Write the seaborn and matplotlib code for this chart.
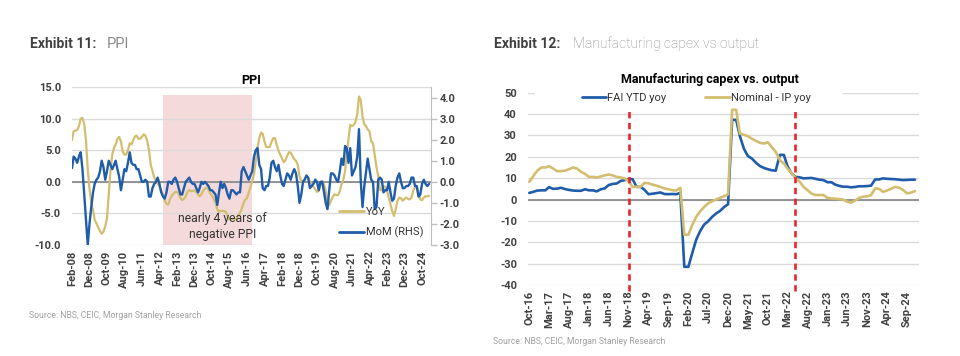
import matplotlib
matplotlib.use("Agg")
import matplotlib.pyplot as plt
from matplotlib.lines import Line2D
from matplotlib.patches import Rectangle
import pandas as pd
import seaborn as sns

########################################
# PPI data, monthly from Feb-08 to Feb-25

ppi_start = "2008-02-01"
ppi_yoy = [
    6.6, 8.0, 8.1, 8.2, 8.8, 10.0, 10.1, 9.1, 6.6, 2.0, -1.1,
    -3.3, -4.5, -6.0, -6.6, -7.2, -7.8, -8.2, -7.9, -7.0, -5.8, -2.1, 1.7,
    4.3, 5.4, 5.9, 6.8, 7.1, 6.4, 4.8, 4.3, 4.3, 5.0, 6.1, 5.9,
    6.6, 7.2, 7.3, 6.8, 6.8, 7.1, 7.5, 7.3, 6.5, 5.0, 2.7, 1.7,
    0.7, 0.0, -0.3, -0.7, -1.4, -2.1, -2.9, -3.5, -3.6, -2.8, -2.2, -1.9,
    -1.6, -1.6, -1.9, -2.6, -2.9, -2.7, -2.3, -1.6, -1.3, -1.5, -1.4, -1.4,
    -1.6, -2.0, -2.3, -2.0, -1.4, -1.1, -0.9, -1.2, -1.8, -2.2, -2.7, -3.3,
    -4.3, -4.8, -4.6, -4.6, -4.6, -4.8, -5.4, -5.9, -5.9, -5.9, -5.9, -5.9,
    -5.3, -4.9, -4.3, -3.4, -2.8, -2.6, -1.7, -0.8, 0.1, 1.2, 3.3, 5.5,
    6.9, 7.8, 7.6, 6.4, 5.5, 5.5, 5.5, 6.3, 6.9, 6.9, 5.8, 4.9,
    4.3, 3.7, 3.1, 3.4, 4.1, 4.7, 4.6, 4.1, 3.6, 3.3, 2.7, 0.9,
    0.1, 0.1, 0.4, 0.9, 0.6, 0.0, -0.3, -0.8, -1.2, -1.6, -1.4, -0.5,
    0.1, -0.4, -1.5, -3.1, -3.7, -3.0, -2.4, -2.0, -2.1, -2.1, -1.5, -0.4,
    0.3, 1.7, 4.4, 6.8, 9.0, 8.8, 9.0, 9.5, 10.7, 13.5, 12.9, 10.3,
    9.1, 8.8, 8.3, 8.0, 6.4, 6.1, 4.2, 2.3, 0.9, -1.3, -1.3, -0.7,
    -0.8, -1.4, -2.5, -3.6, -4.6, -5.4, -4.4, -3.0, -2.5, -2.6, -3.0, -2.7,
    -2.5, -2.7, -2.8, -2.5, -1.4, -0.8, -0.8, -1.8, -2.8, -2.9, -2.5, -2.3,
    -2.3, -2.2,
]
ppi_mom = [
    0.65, 1.2, 1.1, 0.9, 1.2, 1.4, 0.6, -0.6, -1.8, -3.0, -2.0,
    -1.2, -0.5, -0.1, 0.1, 0.2, 0.5, 1.0, 0.7, 0.1, 0.5, 1.0, 0.8,
    0.6, 0.8, 1.0, 0.6, 0.25, -0.4, 0.1, 0.6, 0.5, 0.9, 1.4, 0.9,
    0.8, 0.8, 0.6, 0.6, 0.3, 0.0, 0.0, 0.1, 0.0, -0.7, -0.7, -0.3,
    -0.1, 0.0, 0.2, -0.1, -0.5, -0.7, -0.8, -0.5, 0.0, 0.0, -0.1, 0.1,
    0.2, 0.0, -0.3, -0.6, -0.6, -0.3, 0.0, 0.1, 0.2, 0.0, -0.1, -0.1,
    -0.3, -0.5, -0.3, 0.0, -0.1, 0.0, -0.1, -0.2, -0.4, -0.4, -0.5, -0.6,
    -1.1, -0.5, 0.0, -0.3, -0.1, -0.3, -0.6, -0.8, -0.4, -0.4, -0.5, -0.6,
    -0.5, -0.5, 0.5, 0.7, 0.5, 0.3, 0.1, 0.3, 0.5, 1.2, 1.5, 1.6,
    0.8, 0.6, -0.3, -0.4, -0.2, -0.2, 0.2, 0.9, 1.0, 0.7, 0.5, 0.8,
    0.3, -0.1, -0.2, 0.1, 0.4, 0.3, 0.1, 0.4, 0.6, 0.4, -0.2, -1.0,
    -0.6, 0.0, 0.1, 0.3, 0.2, -0.3, -0.2, -0.1, 0.1, 0.0, -0.4, 0.0,
    0.0, -0.5, -1.0, -1.3, -0.4, 0.4, 0.4, 0.3, 0.1, 0.0, 0.5, 1.1,
    0.8, 1.7, 1.6, 0.9, 1.6, 0.3, 0.5, 0.7, 1.2, 2.5, 0.0, -1.2,
    -0.2, 0.5, 1.1, 0.6, 0.1, 0.0, -1.3, -1.2, 0.1, 0.2, 0.1, -0.5,
    -0.4, -0.4, 0.0, -0.5, -0.9, -0.8, -0.2, 0.2, 0.4, 0.0, -0.3, -0.3,
    -0.2, -0.2, -0.1, 0.2, 0.2, -0.2, -0.2, -0.7, -0.6, -0.1, 0.1, -0.1,
    -0.2, -0.1,
]
negative_ppi_span = ("2012-06-01", "2016-09-01")

########################################
# Manufacturing capex vs output, monthly from Oct-16 to Nov-24

capex_start = "2016-10-01"
fai_ytd = [
    3.1, 3.6, 4.2, 4.3, 4.3, 5.8, 5.0, 5.1, 5.5, 4.9, 4.5, 4.2,
    4.1, 4.1, 4.8, 4.3, 4.3, 3.8, 4.8, 5.2, 6.8, 7.3, 7.5, 8.7,
    9.1, 9.5, 9.5, 5.9, 5.9, 4.6, 2.5, 2.7, 3.0, 3.3, 2.6, 2.5,
    2.6, 2.5, 3.1, -31.5, -31.5, -25.2, -18.8, -14.8, -11.7, -10.2, -8.1, -6.5,
    -5.3, -3.5, -2.2, 37.3, 37.3, 29.8, 23.8, 20.4, 19.2, 17.3, 15.7, 14.8,
    14.2, 13.7, 13.5, 20.9, 20.9, 15.6, 12.2, 10.6, 10.4, 9.9, 10.0, 10.1,
    9.7, 9.3, 9.1, 8.1, 8.1, 7.0, 6.4, 6.0, 6.0, 5.7, 5.9, 6.2,
    6.2, 6.3, 6.5, 9.4, 9.4, 9.9, 9.7, 9.6, 9.5, 9.3, 9.1, 9.2,
    9.3, 9.3,
]
nominal_ip = [
    8.3, 11.0, 13.5, 15.0, 15.0, 15.6, 14.5, 13.3, 13.3, 13.5, 14.2, 15.0,
    14.5, 13.0, 12.0, 10.6, 10.6, 10.3, 10.8, 11.3, 11.7, 11.3, 10.6, 10.3,
    9.9, 8.5, 5.9, 6.0, 6.0, 7.8, 7.6, 7.0, 6.5, 5.9, 5.2, 4.8,
    4.4, 4.2, 5.5, -16.5, -16.5, -12.0, -8.1, -5.5, -3.5, -1.8, -0.8, 0.0,
    0.8, 1.6, 2.4, 42.0, 42.0, 30.9, 30.3, 29.7, 28.5, 27.5, 26.6, 26.2,
    26.8, 24.5, 22.3, 18.5, 16.9, 14.5, 12.4, 10.2, 8.5, 6.0, 4.4, 2.8,
    2.1, 2.1, 2.1, 0.8, 0.5, 0.4, 0.2, 0.0, -1.0, -1.5, -0.5, 0.8,
    1.3, 1.5, 2.1, 5.2, 5.0, 3.6, 4.2, 5.0, 5.9, 5.6, 4.5, 2.9,
    3.2, 3.9,
]
policy_marks = ["2018-11-01", "2022-05-01"]

########################################
# Styling

blue = "#1F5CAA"
gold = "#D3BE6F"
text_grey = "#404040"
grid_grey = "#DADADA"

sns.set_style("white")
plt.rcParams["font.family"] = ["Roboto", "DejaVu Sans"]

fig = plt.figure(figsize=(9.6, 3.56), dpi=100)
W, H = 960, 356


def fig_box(left, top, right, bottom):
    return [left / W, 1 - bottom / H, (right - left) / W, (bottom - top) / H]


def style_ticks(ax):
    for lab in ax.get_xticklabels() + ax.get_yticklabels():
        lab.set_fontweight("bold")
        lab.set_color(text_grey)


# headers and sources
fig.text(30 / W, 1 - 44 / H, "Exhibit 11:", fontsize=10, weight="bold", color=text_grey, va="center")
fig.text(107 / W, 1 - 44 / H, "PPI", fontsize=10.5, color="#8A8A8A", va="center")
fig.text(494 / W, 1 - 44 / H, "Exhibit 12:", fontsize=10, weight="bold", color=text_grey, va="center")
fig.text(573 / W, 1 - 44 / H, "Manufacturing capex vs output", fontsize=10, weight="light",
         color="#8A8A8A", va="center")
fig.text(29 / W, 1 - 316 / H, "Source: NBS, CEIC, Morgan Stanley Research", fontsize=6.2,
         color="#A0A0A0", va="center")
fig.text(493 / W, 1 - 342 / H, "Source: NBS, CEIC, Morgan Stanley Research", fontsize=6.2,
         color="#A0A0A0", va="center")

#####################################################################
# Exhibit 11: PPI

ppi = pd.DataFrame({
    "date": pd.date_range(ppi_start, periods=len(ppi_yoy), freq="MS"),
    "yoy": ppi_yoy,
    "mom": ppi_mom,
})

ax1 = fig.add_axes(fig_box(72, 87, 431, 245))
ax1b = ax1.twinx()

ax1.axvspan(pd.Timestamp(negative_ppi_span[0]), pd.Timestamp(negative_ppi_span[1]),
            ymax=0.95, color="#F4DADA", lw=0, zorder=0)
sns.lineplot(data=ppi, x="date", y="yoy", ax=ax1, color=gold, lw=1.6, zorder=3)
sns.lineplot(data=ppi, x="date", y="mom", ax=ax1b, color=blue, lw=1.7, zorder=3)

ax1.set_ylim(-10, 15)
ax1.set_yticks([-10, -5, 0, 5, 10, 15])
ax1.set_yticklabels([f"{v:.1f}" for v in [-10, -5, 0, 5, 10, 15]], fontsize=8)
ax1b.set_ylim(-3, 4.5)
ax1b.set_yticks(range(-3, 5))
ax1b.set_yticklabels([f"{v:.1f}" for v in range(-3, 5)], fontsize=8)

ppi_ticks = pd.date_range("2008-02-01", "2024-10-01", freq="10MS")
ax1.set_xticks(ppi_ticks)
ax1.set_xticklabels([d.strftime("%b-%y") for d in ppi_ticks], rotation=90, fontsize=8)
ax1.set_xlim(pd.Timestamp("2008-02-01"), pd.Timestamp("2025-03-06"))

ax1.grid(axis="y", color=grid_grey, lw=1)
ax1.axhline(0, color="#8C8C8C", lw=1.3, zorder=1)
ax1.set_xlabel("")
ax1.set_ylabel("")
ax1b.set_ylabel("")
ax1.tick_params(axis="both", length=0, pad=8)
ax1.tick_params(axis="x", pad=4)
ax1b.tick_params(axis="y", length=4, width=1, color="#BFBFBF", pad=2)
for ax in (ax1, ax1b):
    for side in ("top", "left", "bottom", "right"):
        ax.spines[side].set_visible(False)
ax1b.spines["right"].set_visible(True)
ax1b.spines["right"].set_color("#BFBFBF")
style_ticks(ax1)
style_ticks(ax1b)

ax1.set_title("PPI", fontsize=9, weight="bold", color="black", pad=2)
ax1b.text(0.42, 0.117, "nearly 4 years of\nnegative PPI", transform=ax1b.transAxes,
          ha="center", va="center", fontsize=8.7, color="#333333", linespacing=1.35)

ppi_handles = [Line2D([], [], color=gold, lw=2), Line2D([], [], color=blue, lw=2)]
ax1b.legend(ppi_handles, ["YoY", "MoM (RHS)"], loc="lower left", bbox_to_anchor=(0.715, -0.02),
            frameon=False, fontsize=8, handlelength=2.3, handletextpad=0.2, labelspacing=0.9,
            labelcolor="#333333")

#####################################################################
# Exhibit 12: Manufacturing capex vs. output

capex = pd.DataFrame({
    "date": pd.date_range(capex_start, periods=len(fai_ytd), freq="MS"),
    "FAI YTD yoy": fai_ytd,
    "Nominal - IP yoy": nominal_ip,
})
capex_long = capex.melt("date", var_name="series", value_name="value")

ax2 = fig.add_axes(fig_box(528, 92.7, 919, 285))
sns.lineplot(data=capex_long, x="date", y="value", hue="series",
             palette=[blue, gold], ax=ax2, lw=1.9, legend=False, zorder=3)

ax2.set_ylim(-40, 50)
ax2.set_yticks(range(-40, 51, 10))
ax2.set_yticklabels([str(v) for v in range(-40, 51, 10)], fontsize=8)
capex_ticks = pd.date_range("2016-10-01", "2024-09-01", freq="5MS")
ax2.set_xticks(capex_ticks)
ax2.set_xticklabels([d.strftime("%b-%y") for d in capex_ticks], rotation=90, fontsize=8)
ax2.set_xlim(pd.Timestamp("2016-09-21"), pd.Timestamp("2024-12-02"))

ax2.grid(axis="y", color=grid_grey, lw=1)
ax2.axhline(0, color="#8C8C8C", lw=1.3, zorder=1)
ax2.set_xlabel("")
ax2.set_ylabel("")
ax2.tick_params(axis="both", length=0, pad=8)
ax2.tick_params(axis="x", pad=4)
for side in ("top", "left", "bottom", "right"):
    ax2.spines[side].set_visible(False)
style_ticks(ax2)

for d in policy_marks:
    ax2.axvline(pd.Timestamp(d), ymin=-0.03, ymax=0.92, color="#E8262B",
                ls=(0, (2.4, 1.7)), lw=1.9, clip_on=False, zorder=4)

# white band behind the legend, covering the top gridline
ax2.add_patch(Rectangle((0.018, 0.94), 0.788, 0.08, transform=ax2.transAxes,
                        facecolor="white", edgecolor="none", zorder=2, clip_on=False))
capex_handles = [Line2D([], [], color=blue, lw=2), Line2D([], [], color=gold, lw=2)]
ax2.legend(capex_handles, ["FAI YTD yoy", "Nominal - IP yoy"], loc="center",
           bbox_to_anchor=(0.43, 0.972), ncol=2, frameon=False, fontsize=8,
           handlelength=2.2, handletextpad=0.1, columnspacing=3.5, labelcolor="#333333")

fig.text(710 / W, 1 - 79 / H, "Manufacturing capex vs. output", fontsize=9, weight="bold",
         color="black", ha="center", va="center")

fig.savefig("out.png", dpi=100)
